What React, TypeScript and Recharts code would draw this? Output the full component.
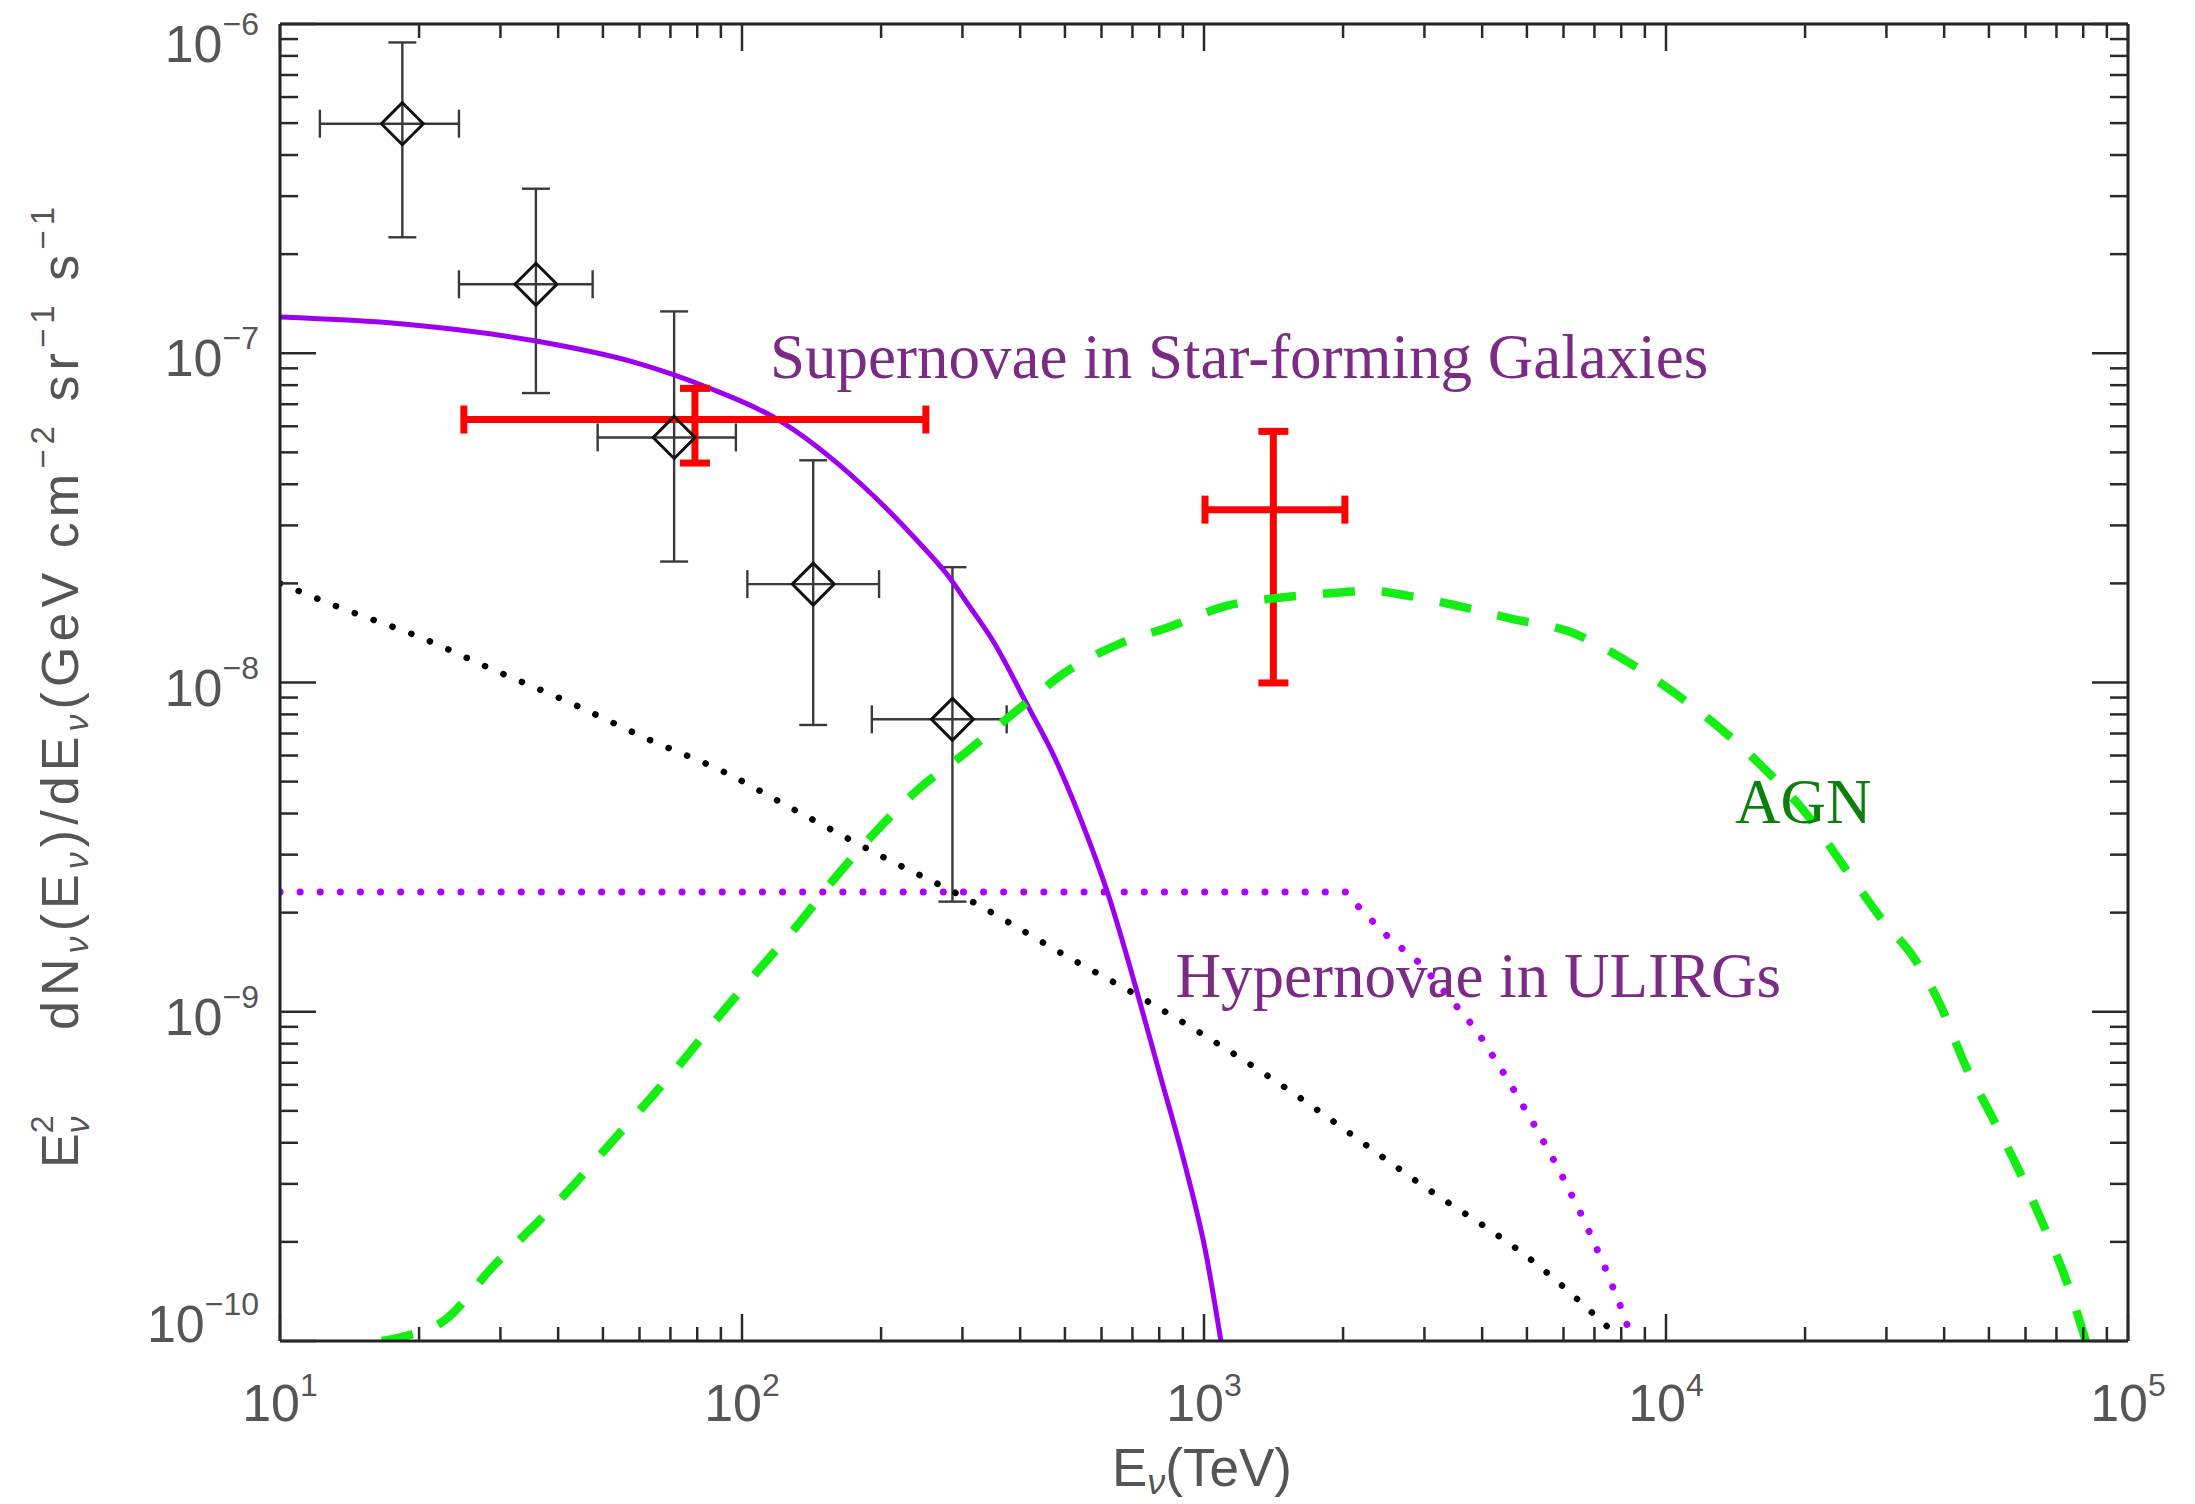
import React from 'react';
import { ComposedChart, Line, Scatter, XAxis, YAxis, ErrorBar, ReferenceDot } from 'recharts';

const W = 2195;
const H = 1504;

// ---------- data ----------
// data points (black diamonds)
const dataE = [18.4, 35.8, 71.3, 142.6, 285.4];
const dataELo = [12.2, 24.4, 48.7, 102.7, 191];
const dataEHi = [24.4, 47.5, 97, 198, 374];
const dataV = [4.98e-7, 1.62e-7, 5.55e-8, 1.99e-8, 7.73e-9];
const dataVLo = [2.25e-7, 7.57e-8, 2.33e-8, 7.43e-9, 2.16e-9];
const dataVHi = [8.79e-7, 3.16e-7, 1.34e-7, 4.73e-8, 2.24e-8];

// red points
const redE = [79.1, 1413];
const redELo = [25, 1005];
const redEHi = [250, 2018];
const redV = [6.29e-8, 3.35e-8];
const redVLo = [4.64e-8, 9.97e-9];
const redVHi = [7.82e-8, 5.79e-8];

// Supernovae in Star-forming Galaxies (solid purple)
const sfgE = [10, 18.46, 35.83, 58.08, 84.84, 117.9, 181.8, 244, 276.4, 311.5, 349.4, 418.0, 471.2, 536.4, 622.9, 708.9, 803.1, 909.9, 1010, 1088];
const sfgV = [1.288e-7, 1.227e-7, 1.089e-7, 9.41e-8, 7.84e-8, 6.36e-8, 3.98e-8, 2.62e-8, 2.15e-8, 1.695e-8, 1.337e-8, 8.36e-9, 6.06e-9, 3.96e-9, 2.23e-9, 1.21e-9, 6.43e-10, 3.42e-10, 1.84e-10, 1.0e-10];

// Hypernovae in ULIRGs (dotted purple)
const hnE = [10, 2033, 2168, 2523, 2940, 3424, 3890, 4531, 5146, 5845, 6636, 7345, 8128, 8441];
const hnV = [2.31e-9, 2.31e-9, 2.07e-9, 1.67e-9, 1.4e-9, 1.09e-9, 8.79e-10, 6.26e-10, 4.62e-10, 3.35e-10, 2.34e-10, 1.7e-10, 1.19e-10, 1.0e-10];

// black dotted curve
const bgE = [10, 13.6, 19.9, 29.1, 42.6, 62.4, 91.4, 130.5, 206, 302, 515, 726, 1371, 2940, 5279, 7600];
const bgV = [2.0e-8, 1.68e-8, 1.38e-8, 1.09e-8, 8.66e-9, 6.74e-9, 5.35e-9, 4.09e-9, 2.91e-9, 2.23e-9, 1.45e-9, 1.11e-9, 6.4e-10, 3.0e-10, 1.7e-10, 1.08e-10];

// AGN (dashed green)
const agnE = [16.6, 18.4, 22.6, 29.1, 34.8, 41.5, 50.9, 62.4, 74.5, 91.4, 109.2, 130.5, 159.8, 191, 240, 302, 399, 509, 656, 846, 1119, 1406, 1909, 2280, 2794, 3603, 4646, 6149, 8400, 10392, 13047, 16085, 20197, 24461, 29143, 34721, 39226, 44353, 50981, 57637, 65164, 73626, 81052];
const agnV = [1.0e-10, 1.03e-10, 1.15e-10, 1.7e-10, 2.18e-10, 2.8e-10, 3.86e-10, 5.33e-10, 7.1e-10, 1.01e-9, 1.35e-9, 1.8e-9, 2.57e-9, 3.42e-9, 4.72e-9, 6.06e-9, 8.35e-9, 1.09e-8, 1.31e-8, 1.48e-8, 1.71e-8, 1.8e-8, 1.87e-8, 1.9e-8, 1.83e-8, 1.7e-8, 1.56e-8, 1.43e-8, 1.14e-8, 9.33e-9, 7.29e-9, 5.59e-9, 3.97e-9, 2.72e-9, 1.93e-9, 1.43e-9, 1.05e-9, 6.93e-10, 4.74e-10, 3.37e-10, 2.3e-10, 1.52e-10, 1.0e-10];

// axes
const xDecades = [10, 100, 1000, 10000];
const yDecades = [1e-10, 1e-9, 1e-8, 1e-7];
const mantissas = [1, 2, 3, 4, 5, 6, 7, 8, 9];
const xTicks = [...xDecades.flatMap((d) => mantissas.map((m) => m * d)), 100000];
const yTicks = [...yDecades.flatMap((d) => mantissas.map((m) => m * d)), 1e-6];

// annotation anchors (start of baseline)
const labels = [
  { text: 'Supernovae in Star-forming Galaxies', E: 115.0, v: 8.41e-8, color: '#7b2a86' },
  { text: 'Hypernovae in ULIRGs', E: 867.8, v: 1.112e-9, color: '#7b2a86' },
  { text: 'AGN', E: 14105, v: 3.735e-9, color: '#0b800b' },
];

// ---------- built tables ----------
const toLine = (xs: number[], ys: number[]) => xs.map((E, i) => ({ E, v: ys[i] }));
const sfgData = toLine(sfgE, sfgV);
const hnData = toLine(hnE, hnV);
const bgData = toLine(bgE, bgV);
const agnData = toLine(agnE, agnV);
const pts = dataE.map((E, i) => ({
  E,
  v: dataV[i],
  xErr: [E - dataELo[i], dataEHi[i] - E],
  yErr: [dataV[i] - dataVLo[i], dataVHi[i] - dataV[i]],
}));
const redPts = redE.map((E, i) => ({
  E,
  v: redV[i],
  xErr: [E - redELo[i], redEHi[i] - E],
  yErr: [redV[i] - redVLo[i], redVHi[i] - redV[i]],
}));

const SANS = 'Liberation Sans, Arial, Helvetica, sans-serif';
const SERIF = 'Liberation Serif, Times New Roman, serif';
const TICK = '#2a2a2a';
const LBL = '#555555';

const expOf = (v: number) => Math.round(Math.log10(v));
const isMajor = (v: number) => Math.abs(Math.log10(v) - Math.round(Math.log10(v))) < 1e-6;

const TickBottom = (p: any) => {
  const { x, y, payload } = p;
  const v = payload.value;
  const major = isMajor(v);
  return (
    <g>
      <line x1={x} x2={x} y1={y} y2={y - (major ? 27 : 14)} stroke={TICK} strokeWidth={2.5} />
      {major && (
        <text x={x} y={y + 80} textAnchor="middle" fontSize={52} fill={LBL} fontFamily={SANS}>
          10<tspan dy={-25} fontSize={32}>{expOf(v)}</tspan>
        </text>
      )}
    </g>
  );
};

const TickTop = (p: any) => {
  const { x, y, payload } = p;
  const major = isMajor(payload.value);
  return <line x1={x} x2={x} y1={y} y2={y + (major ? 27 : 14)} stroke={TICK} strokeWidth={2.5} />;
};

const TickLeft = (p: any) => {
  const { x, y, payload } = p;
  const v = payload.value;
  const major = isMajor(v);
  const e = expOf(v);
  const off = e === -6 ? 38 : e === -10 ? 1 : 23;
  return (
    <g>
      <line x1={x} x2={x + (major ? 36 : 18)} y1={y} y2={y} stroke={TICK} strokeWidth={2.5} />
      {major && (
        <text x={x - 21} y={y + off} textAnchor="end" fontSize={52} fill={LBL} fontFamily={SANS}>
          10<tspan dy={-27} fontSize={32}>{'\u2212' + String(-e)}</tspan>
        </text>
      )}
    </g>
  );
};

const TickRight = (p: any) => {
  const { x, y, payload } = p;
  const major = isMajor(payload.value);
  return <line x1={x} x2={x - (major ? 36 : 18)} y1={y} y2={y} stroke={TICK} strokeWidth={2.5} />;
};

const XTitle = () => (
  <text x={1202} y={1486} textAnchor="middle" fontSize={53} fill={LBL} fontFamily={SANS}>
    E<tspan dy={8} fontSize={36} fontStyle="italic">ν</tspan>
    <tspan dy={-8}>(TeV)</tspan>
  </text>
);

const YTitle = () => (
  <g fill={LBL} fontFamily={SANS}>
    <text transform="translate(78,1168) rotate(-90)" fontSize={52}>
      E<tspan dy={-25} fontSize={32}>2</tspan>
      <tspan dx={-18} dy={36} fontSize={34} fontStyle="italic">ν</tspan>
    </text>
    <text transform="translate(78,1030) rotate(-90)" fontSize={52} textLength={823} lengthAdjust="spacing">
      dN<tspan dy={10} fontSize={34} fontStyle="italic">ν</tspan>
      <tspan dy={-10}>(E</tspan>
      <tspan dy={10} fontSize={34} fontStyle="italic">ν</tspan>
      <tspan dy={-10}>)/dE</tspan>
      <tspan dy={10} fontSize={34} fontStyle="italic">ν</tspan>
      <tspan dy={-10}>(GeV cm</tspan>
      <tspan dy={-24} fontSize={33}>{'\u22122'}</tspan>
      <tspan dy={24}> sr</tspan>
      <tspan dy={-24} fontSize={33}>{'\u22121'}</tspan>
      <tspan dy={24}> s</tspan>
      <tspan dy={-24} fontSize={33}>{'\u22121'}</tspan>
    </text>
  </g>
);

const Diamond = (p: any) => {
  const { cx, cy } = p;
  if (cx == null || cy == null) return <g />;
  const a = 21;
  return (
    <path
      d={`M${cx},${cy - a} L${cx + a},${cy} L${cx},${cy + a} L${cx - a},${cy} Z`}
      fill="none"
      stroke="#111"
      strokeWidth={3}
    />
  );
};

const Empty = () => <g />;

const makeLabel = (text: string, color: string) => (p: any) => (
  <text x={p.cx} y={p.cy} fontSize={63} fill={color} fontFamily={SERIF}>
    {text}
  </text>
);

export default function App() {
  return (
    <div style={{ position: 'absolute', left: 0, top: 0, width: W, height: H, background: '#fff' }}>
      <ComposedChart width={W} height={H} margin={{ top: 0, right: 0, bottom: 0, left: 0 }}>
        <XAxis
          xAxisId="b"
          dataKey="E"
          type="number"
          scale="log"
          domain={[10, 100000]}
          allowDataOverflow
          ticks={xTicks}
          interval={0}
          tickSize={0}
          tickMargin={0}
          tickLine={false}
          tick={<TickBottom />}
          axisLine={{ stroke: '#222', strokeWidth: 3 }}
          orientation="bottom"
          height={163}
          label={<XTitle />}
        />
        <XAxis
          xAxisId="t"
          dataKey="E"
          type="number"
          scale="log"
          domain={[10, 100000]}
          allowDataOverflow
          ticks={xTicks}
          interval={0}
          tickSize={0}
          tickMargin={0}
          tickLine={false}
          tick={<TickTop />}
          axisLine={{ stroke: '#222', strokeWidth: 3 }}
          orientation="top"
          height={24}
        />
        <YAxis
          yAxisId="l"
          dataKey="v"
          type="number"
          scale="log"
          domain={[1e-10, 1e-6]}
          allowDataOverflow
          ticks={yTicks}
          interval={0}
          tickSize={0}
          tickMargin={0}
          tickLine={false}
          tick={<TickLeft />}
          axisLine={{ stroke: '#222', strokeWidth: 3 }}
          orientation="left"
          width={280}
          label={<YTitle />}
        />
        <YAxis
          yAxisId="r"
          dataKey="v"
          type="number"
          scale="log"
          domain={[1e-10, 1e-6]}
          allowDataOverflow
          ticks={yTicks}
          interval={0}
          tickSize={0}
          tickMargin={0}
          tickLine={false}
          tick={<TickRight />}
          axisLine={{ stroke: '#222', strokeWidth: 3 }}
          orientation="right"
          width={67}
        />

        {/* hidden series to bind top/right axes */}
        <Line xAxisId="t" yAxisId="r" data={sfgData} dataKey="v" stroke="none" dot={false} activeDot={false} isAnimationActive={false} />

        <Scatter xAxisId="b" yAxisId="l" data={pts} shape={<Diamond />} isAnimationActive={false}>
          <ErrorBar dataKey="xErr" direction="x" width={14} stroke="#3a3a3a" strokeWidth={2.4} />
          <ErrorBar dataKey="yErr" direction="y" width={14} stroke="#3a3a3a" strokeWidth={2.4} />
        </Scatter>

        <Line xAxisId="b" yAxisId="l" data={bgData} dataKey="v" type="monotone" stroke="#000" strokeWidth={6.5} strokeDasharray="0.1 20" strokeLinecap="round" dot={false} activeDot={false} isAnimationActive={false} />
        <Line xAxisId="b" yAxisId="l" data={hnData} dataKey="v" type="linear" stroke="#b000ff" strokeWidth={7} strokeDasharray="0.1 20" strokeLinecap="round" dot={false} activeDot={false} isAnimationActive={false} />
        <Line xAxisId="b" yAxisId="l" data={sfgData} dataKey="v" type="monotone" stroke="#9d00ee" strokeWidth={5} dot={false} activeDot={false} isAnimationActive={false} />

        <Scatter xAxisId="b" yAxisId="l" data={redPts} shape={<Empty />} isAnimationActive={false}>
          <ErrorBar dataKey="xErr" direction="x" width={14} stroke="#ff0000" strokeWidth={7} />
          <ErrorBar dataKey="yErr" direction="y" width={15} stroke="#ff0000" strokeWidth={7} />
        </Scatter>

        <Line xAxisId="b" yAxisId="l" data={agnData} dataKey="v" type="monotone" stroke="#14ee14" strokeWidth={8.5} strokeDasharray="32 27" dot={false} activeDot={false} isAnimationActive={false} />

        {labels.map((lb) => (
          <ReferenceDot
            key={lb.text}
            xAxisId="b"
            yAxisId="l"
            x={lb.E}
            y={lb.v}
            r={0}
            ifOverflow="visible"
            shape={makeLabel(lb.text, lb.color)}
          />
        ))}
      </ComposedChart>
    </div>
  );
}
